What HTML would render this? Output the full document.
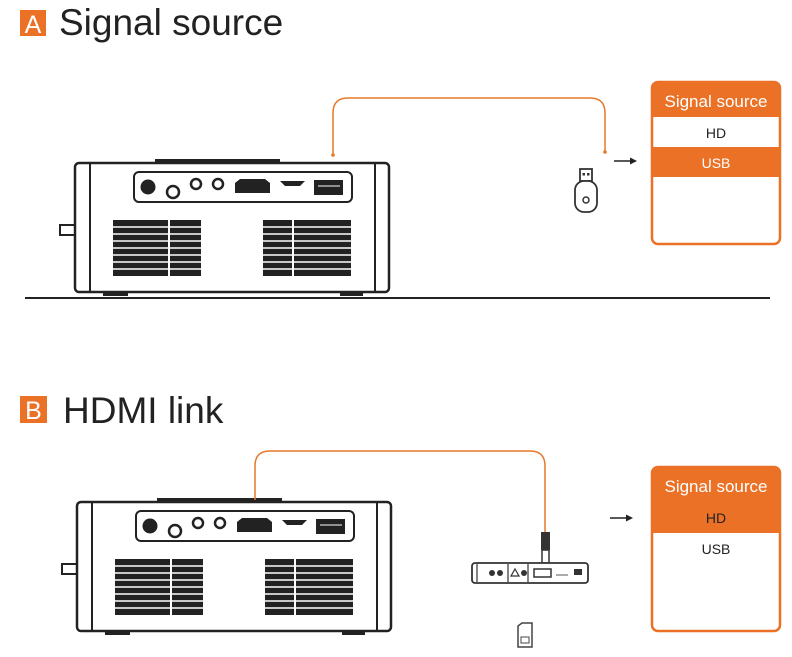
<!DOCTYPE html>
<html><head><meta charset="utf-8"><style>
html,body{margin:0;padding:0;background:#fff;}
svg{display:block;font-family:"Liberation Sans",sans-serif;}
</style></head><body>
<svg width="792" height="657" viewBox="0 0 792 657" xmlns="http://www.w3.org/2000/svg">
<defs>
<g id="proj">
  <rect x="60" y="225" width="16" height="10" fill="#fff" stroke="#222" stroke-width="2"/>
  <rect x="155" y="159" width="125" height="5" fill="#222"/>
  <rect x="75" y="163" width="314" height="129" rx="4" fill="#fff" stroke="#222" stroke-width="2.5"/>
  <line x1="90" y1="164" x2="90" y2="291" stroke="#222" stroke-width="2"/>
  <line x1="375" y1="164" x2="375" y2="291" stroke="#222" stroke-width="2"/>
  <rect x="134" y="172" width="218" height="30" rx="5" fill="#fff" stroke="#222" stroke-width="2"/>
  <circle cx="148" cy="187" r="7.5" fill="#222"/>
  <circle cx="173" cy="192" r="6" fill="#fff" stroke="#222" stroke-width="2.5"/>
  <circle cx="196" cy="184" r="5" fill="#fff" stroke="#222" stroke-width="2.5"/>
  <circle cx="218" cy="184" r="5" fill="#fff" stroke="#222" stroke-width="2.5"/>
  <path d="M235 183 L240 179 H265 L270 183 V193 H235 Z" fill="#222"/>
  <path d="M280 181 H305 L300 186 H285 Z" fill="#222"/>
  <rect x="314" y="180" width="29" height="15" fill="#222"/>
  <line x1="318" y1="186" x2="340" y2="186" stroke="#fff" stroke-width="1"/>
  <g fill="#222">
    <rect x="113" y="220" width="88" height="56"/>
    <rect x="263" y="220" width="88" height="56"/>
  </g>
  <g stroke="#fff" stroke-width="1.5">
    <line x1="113" y1="227" x2="201" y2="227"/><line x1="113" y1="234" x2="201" y2="234"/>
    <line x1="113" y1="241" x2="201" y2="241"/><line x1="113" y1="248" x2="201" y2="248"/>
    <line x1="113" y1="255" x2="201" y2="255"/><line x1="113" y1="262" x2="201" y2="262"/>
    <line x1="113" y1="269" x2="201" y2="269"/>
    <line x1="263" y1="227" x2="351" y2="227"/><line x1="263" y1="234" x2="351" y2="234"/>
    <line x1="263" y1="241" x2="351" y2="241"/><line x1="263" y1="248" x2="351" y2="248"/>
    <line x1="263" y1="255" x2="351" y2="255"/><line x1="263" y1="262" x2="351" y2="262"/>
    <line x1="263" y1="269" x2="351" y2="269"/>
    <line x1="169" y1="220" x2="169" y2="276" stroke-width="2"/>
    <line x1="293" y1="220" x2="293" y2="276" stroke-width="2"/>
  </g>
  <rect x="103" y="292" width="25" height="4" fill="#222"/>
  <rect x="340" y="292" width="23" height="4" fill="#222"/>
</g>
</defs>

<!-- Section A -->
<rect x="20" y="10" width="26" height="26" fill="#ea7125"/>
<text x="33" y="33" font-size="25" fill="#fff" text-anchor="middle">A</text>
<text x="59" y="35" font-size="37" fill="#222">Signal source</text>

<use href="#proj"/>
<line x1="25" y1="298" x2="770" y2="298" stroke="#222" stroke-width="2"/>

<path d="M333 155 V113 Q333 98 348 98 H590 Q605 98 605 113 V151" fill="none" stroke="#e8782a" stroke-width="1.5"/>
<circle cx="333" cy="155" r="1.8" fill="#e8782a"/>
<circle cx="605" cy="152" r="1.8" fill="#e8782a"/>

<!-- USB stick -->
<rect x="580" y="169" width="12" height="12" fill="#fff" stroke="#333" stroke-width="1.8"/>
<rect x="582.5" y="173" width="2.5" height="2.5" fill="#333"/><rect x="587" y="173" width="2.5" height="2.5" fill="#333"/>
<rect x="575" y="181" width="22" height="31" rx="9" fill="#fff" stroke="#333" stroke-width="1.8"/>
<circle cx="586" cy="200" r="3" fill="none" stroke="#333" stroke-width="1.5"/>

<line x1="614" y1="161" x2="632" y2="161" stroke="#222" stroke-width="1.5"/>
<path d="M637 161 L630 157.5 V164.5 Z" fill="#222"/>

<rect x="652" y="82" width="128" height="162" rx="6" fill="#fff" stroke="#ea7125" stroke-width="2.5"/>
<path d="M652 88 Q652 82 658 82 H774 Q780 82 780 88 V117 H652 Z" fill="#ea7125"/>
<rect x="652" y="147" width="128" height="30" fill="#ea7125"/>
<text x="716" y="107" font-size="17" fill="#fff" text-anchor="middle">Signal source</text>
<text x="716" y="138" font-size="14" fill="#222" text-anchor="middle">HD</text>
<text x="716" y="168" font-size="14" fill="#fff" text-anchor="middle">USB</text>

<!-- Section B -->
<rect x="20" y="396" width="27" height="27" fill="#ea7125"/>
<text x="33.5" y="419" font-size="25" fill="#fff" text-anchor="middle">B</text>
<text x="63" y="423" font-size="37" fill="#222">HDMI link</text>

<use href="#proj" transform="translate(2,339)"/>

<path d="M255 500 V466 Q255 451 270 451 H530 Q545 451 545 466 V532" fill="none" stroke="#e8782a" stroke-width="1.5"/>
<rect x="541" y="532" width="9" height="18" fill="#333"/>
<rect x="542" y="550" width="7" height="13" fill="#fff" stroke="#333" stroke-width="1.5"/>

<!-- set top box -->
<rect x="472" y="563" width="116" height="20" rx="3" fill="#fff" stroke="#333" stroke-width="1.8"/>
<line x1="477" y1="564" x2="477" y2="582" stroke="#333" stroke-width="1.2"/>
<line x1="508" y1="564" x2="508" y2="582" stroke="#333" stroke-width="1.2"/>
<line x1="528" y1="564" x2="528" y2="582" stroke="#333" stroke-width="1.2"/>
<circle cx="492" cy="573" r="3" fill="#333"/><circle cx="500" cy="573" r="3" fill="#333"/>
<path d="M515 569 L519 576 H511 Z" fill="none" stroke="#333" stroke-width="1.2"/>
<circle cx="524" cy="573" r="3" fill="#333"/>
<rect x="534" y="569" width="17" height="8" fill="none" stroke="#333" stroke-width="1.5"/>
<line x1="556" y1="575" x2="568" y2="575" stroke="#555" stroke-width="1"/>
<rect x="574" y="569" width="8" height="6" fill="#333"/>

<!-- SD card -->
<path d="M518 626 L522 623 H532 V647 H518 Z" fill="#fff" stroke="#444" stroke-width="1.5"/>
<rect x="521" y="637" width="8" height="6" fill="none" stroke="#444" stroke-width="1"/>

<line x1="610" y1="518" x2="628" y2="518" stroke="#222" stroke-width="1.5"/>
<path d="M633 518 L626 514.5 V521.5 Z" fill="#222"/>

<rect x="652" y="467" width="128" height="164" rx="6" fill="#fff" stroke="#ea7125" stroke-width="2.5"/>
<path d="M652 473 Q652 467 658 467 H774 Q780 467 780 473 V533 H652 Z" fill="#ea7125"/>
<text x="716" y="492" font-size="17" fill="#fff" text-anchor="middle">Signal source</text>
<text x="716" y="523" font-size="14" fill="#222" text-anchor="middle">HD</text>
<text x="716" y="554" font-size="14" fill="#222" text-anchor="middle">USB</text>
</svg>
</body></html>
